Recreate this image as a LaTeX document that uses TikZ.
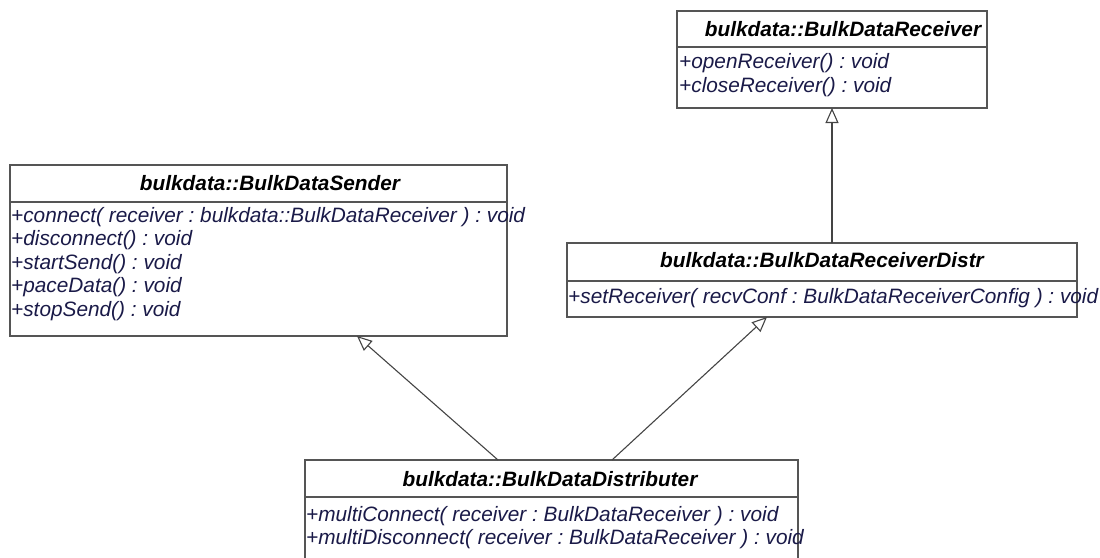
\documentclass[tikz,border=0pt]{standalone}
\usepackage{fontspec}
\setmainfont{Liberation Sans}
\usetikzlibrary{arrows.meta,calc}
\definecolor{edgegray}{HTML}{555555}
\definecolor{linkgray}{HTML}{444444}
\definecolor{opcol}{HTML}{1A1A48}
\frenchspacing
\begin{document}
\begin{tikzpicture}[x=1pt,y=-1pt,
  classbox/.style={draw=edgegray, line width=1.2pt, fill=white, inner sep=0pt, outer sep=0pt, anchor=north west},
  sepline/.style={draw=edgegray, line width=1.2pt},
  classtitle/.style={font=\fontsize{20.8}{23.5}\selectfont\bfseries\itshape, anchor=base, inner sep=0pt},
  op/.style={font=\fontsize{20.8}{23.5}\selectfont\itshape, text=opcol, anchor=base west, inner sep=0pt},
  inherit/.style={draw=linkgray, line width=1.1pt, -{Triangle[open, length=15pt, width=13pt, fill=white]}},
]
\useasboundingbox (0,0) rectangle (1100,557);
\clip (0,0) rectangle (1100,557);

% bulkdata::BulkDataReceiver
\node[classbox, minimum width=310pt, minimum height=97pt] (rcv) at (677,11) {};
\draw[sepline] ($(rcv.north west)+(0,36)$) -- ($(rcv.north east)+(0,36)$);
\node[classtitle] (rcvT) at (843,36) {bulkdata::BulkDataReceiver};
\node[op] (rcv1) at (679,68.5) {+openReceiver() : void};
\node[op] (rcv2) at (679,92) {+closeReceiver() : void};

% bulkdata::BulkDataSender
\node[classbox, minimum width=497pt, minimum height=171pt] (snd) at (10,165) {};
\draw[sepline] ($(snd.north west)+(0,37)$) -- ($(snd.north east)+(0,37)$);
\node[classtitle] (sndT) at (270,190) {bulkdata::BulkDataSender};
\node[op] (snd1) at (11,222) {+connect( receiver : bulkdata::BulkDataReceiver ) : void};
\node[op] (snd2) at (11,245.5) {+disconnect() : void};
\node[op] (snd3) at (11,269) {+startSend() : void};
\node[op] (snd4) at (11,292.5) {+paceData() : void};
\node[op] (snd5) at (11,316) {+stopSend() : void};

% bulkdata::BulkDataReceiverDistr
\node[classbox, minimum width=510pt, minimum height=74pt] (rdi) at (567,243) {};
\draw[sepline] ($(rdi.north west)+(0,38)$) -- ($(rdi.north east)+(0,38)$);
\node[classtitle] (rdiT) at (822,267) {bulkdata::BulkDataReceiverDistr};
\node[op] (rdi1) at (568,303) {+setReceiver( recvConf : BulkDataReceiverConfig ) : void};

% bulkdata::BulkDataDistributer
\node[classbox, minimum width=493pt, minimum height=130pt] (dst) at (305,460) {};
\draw[sepline] ($(dst.north west)+(0,37)$) -- ($(dst.north east)+(0,37)$);
\node[classtitle] (dstT) at (550,486) {bulkdata::BulkDataDistributer};
\node[op] (dst1) at (306,521) {+multiConnect( receiver : BulkDataReceiver ) : void};
\node[op] (dst2) at (306,544.5) {+multiDisconnect( receiver : BulkDataReceiver ) : void};

% generalisation links
\coordinate (dstL) at ($(dst.north west)+(193,0)$);
\coordinate (dstR) at ($(dst.north west)+(307,0)$);
\coordinate (sndB) at ($(snd.south west)+(347,0)$);
\coordinate (rdiB) at ($(rdi.south west)+(200,0)$);
\coordinate (rdiT0) at ($(rdi.north west)+(265,0)$);
\coordinate (rcvB) at (rdiT0 |- rcv.south);
\draw[inherit] (dstL) -- (sndB);
\draw[inherit] (dstR) -- (rdiB);
\draw[inherit] (rdiT0) -- (rcvB);
\end{tikzpicture}
\end{document}
